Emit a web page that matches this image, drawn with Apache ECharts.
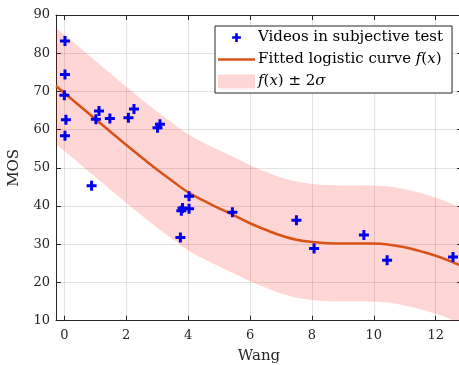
<!DOCTYPE html>
<html><head><meta charset="utf-8">
<script src="https://cdn.jsdelivr.net/npm/echarts@6/dist/echarts.min.js"></script>
<style>html,body{margin:0;padding:0;background:#fff}#c{width:459px;height:365px}</style>
</head><body><div id="c"></div>
<script>
// Data
const videoX   = [0.02, 0.02, 0.00, 0.05, 0.02, 0.88, 1.02, 1.12, 1.47, 2.07, 2.25, 3.01, 3.09, 3.75, 3.78, 3.82, 4.03, 4.03, 5.43, 7.50, 8.07, 9.68, 10.43, 12.56];
const videoMOS = [83.2, 74.4, 69.0, 62.6, 58.4, 45.3, 62.7, 64.9, 62.9, 63.1, 65.4, 60.5, 61.4, 31.8, 38.8, 39.5, 39.3, 42.6, 38.4, 36.3, 28.9, 32.4, 25.8, 26.7];
const curveX = [-0.27, 0, 0.5, 1, 1.5, 2, 2.5, 3, 3.5, 4, 4.5, 5, 5.5, 6, 6.5, 7, 7.5, 8, 8.5, 9, 9.5, 10, 10.5, 11, 11.5, 12, 12.5, 12.85];
const curveF = [71.4, 69.6, 66.2, 62.8, 59.4, 56.0, 52.7, 49.5, 46.5, 43.6, 41.4, 39.4, 37.5, 35.5, 33.8, 32.3, 31.2, 30.6, 30.3, 30.2, 30.2, 30.2, 29.9, 29.2, 28.2, 27.0, 25.5, 24.2];
const twoSigma = 15.2;
const xTickValues = [0, 2, 4, 6, 8, 10, 12];
const legendNames = ['Videos in subjective test', 'Fitted logistic curve f(x)', 'f(x) \u00b1 2\u03c3'];

const plusPath = 'path://M3.5 0h3v3.5h3.5v3h-3.5v3.5h-3v-3.5h-3.5v-3h3.5z';
const plusLegend = 'path://M-3 -3M13 13M3.5 0h3v3.5h3.5v3h-3.5v3.5h-3v-3.5h-3.5v-3h3.5z';
const lineLegend = 'path://M0 0h37v2.5h-37z';

const serif = 'DejaVu Serif';
const axisCol = '#262626';
const gridCol = 'rgba(0,0,0,0.11)';
const bandCol = 'rgba(255,0,0,0.16)';
const curveCol = '#D95319';
const dotCol = '#0000ee';

const scatterData = videoX.map((x, i) => [x, videoMOS[i]]);
const curveData = curveX.map((x, i) => [x, curveF[i]]);

// smooth path through pixel points (Catmull-Rom -> cubic Bezier)
function smoothSeg(pts) {
  let d = '';
  for (let i = 0; i < pts.length - 1; i++) {
    const p0 = pts[Math.max(i - 1, 0)], p1 = pts[i], p2 = pts[i + 1], p3 = pts[Math.min(i + 2, pts.length - 1)];
    const c1 = [p1[0] + (p2[0] - p0[0]) / 6, p1[1] + (p2[1] - p0[1]) / 6];
    const c2 = [p2[0] - (p3[0] - p1[0]) / 6, p2[1] - (p3[1] - p1[1]) / 6];
    d += 'C' + c1[0] + ' ' + c1[1] + ' ' + c2[0] + ' ' + c2[1] + ' ' + p2[0] + ' ' + p2[1];
  }
  return d;
}
function renderBand(params, api) {
  const up = curveX.map((x, i) => api.coord([x, curveF[i] + twoSigma]));
  const lo = curveX.map((x, i) => api.coord([x, curveF[i] - twoSigma])).reverse();
  const d = 'M' + up[0][0] + ' ' + up[0][1] + smoothSeg(up) +
            'L' + lo[0][0] + ' ' + lo[0][1] + smoothSeg(lo) + 'Z';
  return {type: 'path', shape: {pathData: d}, style: {fill: bandCol, stroke: null}};
}

const chart = echarts.init(document.getElementById('c'), null, {renderer: 'canvas'});
const xCommon = {type: 'value', min: -0.27, max: 12.85, splitNumber: 6};
chart.setOption({
  animation: false,
  backgroundColor: '#fff',
  grid: {left: 56, top: 15, right: -3, bottom: 44.3, containLabel: false, outerBoundsMode: 'none'},
  legend: {
    orient: 'vertical', left: 215, top: 26,
    padding: [4, 9, 4, 3], itemGap: 7, itemWidth: 37, itemHeight: 14,
    backgroundColor: '#fff', borderColor: axisCol, borderWidth: 1, borderRadius: 0,
    selectedMode: false,
    data: [
      {name: legendNames[0], icon: plusLegend, itemStyle: {color: dotCol, opacity: 1}},
      {name: legendNames[1], icon: lineLegend, itemStyle: {color: curveCol}},
      {name: legendNames[2], icon: 'rect', itemStyle: {color: '#ffd6d6', borderWidth: 0}}
    ],
    formatter: function (n) {
      if (n === legendNames[1]) return '{t|Fitted logistic curve }{i|f}{t|(}{i|x}{t|)}';
      if (n === legendNames[2]) return '{i|f}{t|(}{i|x}{t|) \u00b1 2}{i|\u03c3}';
      return '{t|' + n + '}';
    },
    textStyle: {
      fontFamily: serif, fontSize: 15, color: '#000', padding: [0, 0, 0, -2],
      rich: {
        t: {fontFamily: serif, fontSize: 15, color: '#000'},
        i: {fontFamily: serif, fontSize: 15, color: '#000', fontStyle: 'italic'}
      }
    }
  },
  xAxis: [
    Object.assign({}, xCommon, {
      position: 'bottom', name: 'Wang', nameLocation: 'middle', nameGap: 28,
      nameTextStyle: {fontFamily: serif, fontSize: 15, color: axisCol},
      axisLine: {show: true, onZero: false, lineStyle: {color: axisCol, width: 1}},
      axisTick: {show: true, inside: true, length: 5, lineStyle: {color: axisCol}, customValues: xTickValues},
      axisLabel: {color: axisCol, fontFamily: serif, fontSize: 13, margin: 8, customValues: xTickValues},
      splitLine: {show: true, lineStyle: {color: gridCol, width: 1}}
    }),
    Object.assign({}, xCommon, {
      position: 'top',
      axisLine: {show: true, onZero: false, lineStyle: {color: axisCol, width: 1}},
      axisTick: {show: true, inside: true, length: 5, lineStyle: {color: axisCol}, customValues: xTickValues},
      axisLabel: {show: false},
      splitLine: {show: false}
    })
  ],
  yAxis: [
    {
      type: 'value', min: 10, max: 90, interval: 10, position: 'left',
      name: 'MOS', nameLocation: 'middle', nameGap: 34,
      nameTextStyle: {fontFamily: serif, fontSize: 15, color: axisCol},
      axisLine: {show: true, onZero: false, lineStyle: {color: axisCol, width: 1}},
      axisTick: {show: true, inside: true, length: 5, lineStyle: {color: axisCol}},
      axisLabel: {color: axisCol, fontFamily: serif, fontSize: 13, margin: 6},
      splitLine: {show: true, lineStyle: {color: gridCol, width: 1}}
    },
    {
      type: 'value', min: 10, max: 90, interval: 10, position: 'right',
      axisLine: {show: true, onZero: false, lineStyle: {color: axisCol, width: 1}},
      axisTick: {show: true, inside: true, length: 5, lineStyle: {color: axisCol}},
      axisLabel: {show: false},
      splitLine: {show: false}
    }
  ],
  series: [
    {
      name: legendNames[2], type: 'custom', renderItem: renderBand,
      data: [[curveX[0], curveF[0]]], clip: true, color: '#ffd6d6', z: 1, silent: true
    },
    {
      name: legendNames[1], type: 'line', data: curveData, symbol: 'none', smooth: true,
      color: curveCol, lineStyle: {color: curveCol, width: 2.5}, z: 2
    },
    {
      name: legendNames[0], type: 'scatter', data: scatterData,
      symbol: plusPath, symbolSize: 10, symbolKeepAspect: true,
      color: dotCol, itemStyle: {color: dotCol, opacity: 1}, z: 3
    }
  ]
});
</script>
</body></html>
